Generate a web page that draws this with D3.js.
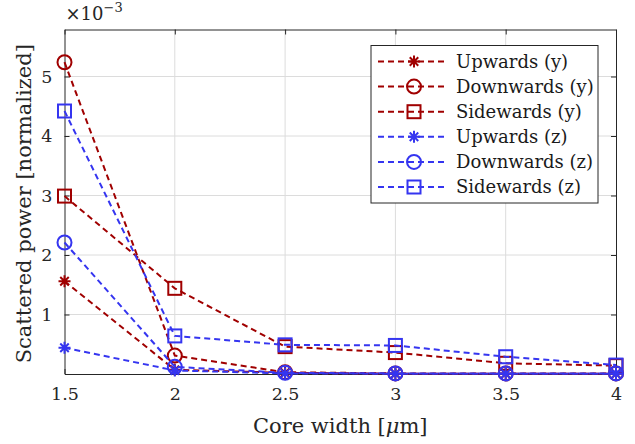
<!DOCTYPE html>
<html>
<head>
<meta charset="utf-8">
<script src="https://cdn.jsdelivr.net/npm/d3@7"></script>
<style>
  body { margin: 0; background: #fff; }
  svg { display: block; font-family: "DejaVu Serif", serif; }
</style>
</head>
<body>
<div id="chart"></div>
<script>
const width = 635;
const height = 444;
const plotLeft = 64.5;
const plotRight = 616;
const plotTop = 29.5;
const plotBottom = 374;

const coreWidths = [1.5, 2, 2.5, 3, 3.5, 4];
const xTicks = [1.5, 2, 2.5, 3, 3.5, 4];
const yTicks = [1, 2, 3, 4, 5];

// values in units of 1e-3
const upwardsY = [1.56, 0.07, 0.02, 0.005, 0.005, 0.005];
const downwardsY = [5.24, 0.31, 0.03, 0.01, 0.01, 0.01];
const sidewardsY = [2.99, 1.44, 0.46, 0.36, 0.18, 0.14];
const upwardsZ = [0.44, 0.06, 0.01, 0.005, 0.005, 0.005];
const downwardsZ = [2.21, 0.12, 0.02, 0.01, 0.01, 0.01];
const sidewardsZ = [4.42, 0.64, 0.49, 0.48, 0.29, 0.15];

const red = "#a00000";
const blue = "#3535f0";

const series = [
  { title: "Upwards (y)", color: red, marker: "star", values: upwardsY },
  { title: "Downwards (y)", color: red, marker: "circle", values: downwardsY },
  { title: "Sidewards (y)", color: red, marker: "square", values: sidewardsY },
  { title: "Upwards (z)", color: blue, marker: "star", values: upwardsZ },
  { title: "Downwards (z)", color: blue, marker: "circle", values: downwardsZ },
  { title: "Sidewards (z)", color: blue, marker: "square", values: sidewardsZ }
];

const x = d3.scaleLinear([1.5, 4], [plotLeft, plotRight]);
const y = d3.scaleLinear([0, 5.79], [plotBottom, plotTop]);

const svg = d3.select("#chart").append("svg")
  .attr("width", width)
  .attr("height", height);

// grid
svg.append("g")
  .selectAll("line")
  .data(xTicks.slice(1, -1))
  .join("line")
  .attr("x1", d => x(d)).attr("x2", d => x(d))
  .attr("y1", plotTop).attr("y2", plotBottom)
  .attr("stroke", "#dcdcdc").attr("stroke-width", 1);
svg.append("g")
  .selectAll("line")
  .data(yTicks)
  .join("line")
  .attr("x1", plotLeft).attr("x2", plotRight)
  .attr("y1", d => y(d)).attr("y2", d => y(d))
  .attr("stroke", "#dcdcdc").attr("stroke-width", 1);

// axes
const tickLen = 5;
const axisColor = "#262626";
const xAxis = svg.append("g")
  .attr("transform", `translate(0,${plotBottom})`)
  .call(d3.axisBottom(x).tickValues(xTicks).tickSizeInner(-tickLen).tickSizeOuter(0).tickPadding(14)
    .tickFormat(d3.format("")));
const xAxisTop = svg.append("g")
  .attr("transform", `translate(0,${plotTop})`)
  .call(d3.axisTop(x).tickValues(xTicks).tickSizeInner(-tickLen).tickSizeOuter(0).tickFormat(""));
const yAxis = svg.append("g")
  .attr("transform", `translate(${plotLeft},0)`)
  .call(d3.axisLeft(y).tickValues(yTicks).tickSizeInner(-tickLen).tickSizeOuter(0).tickPadding(12)
    .tickFormat(d3.format("d")));
const yAxisRight = svg.append("g")
  .attr("transform", `translate(${plotRight},0)`)
  .call(d3.axisRight(y).tickValues(yTicks).tickSizeInner(-tickLen).tickSizeOuter(0).tickFormat(""));

[xAxis, xAxisTop, yAxis, yAxisRight].forEach(g => {
  g.select(".domain").attr("stroke", axisColor).attr("stroke-width", 1);
  g.selectAll(".tick line").attr("stroke", axisColor);
  g.selectAll("text")
    .attr("fill", axisColor)
    .style("font-family", "DejaVu Serif, serif")
    .style("font-size", "17.5px");
});

// lines
const line = d3.line()
  .x((v, i) => x(coreWidths[i]))
  .y(v => y(v));

const markerSize = 7;
function drawMarker(g, type, color) {
  if (type === "circle") {
    g.append("circle").attr("r", markerSize)
      .attr("fill", "none").attr("stroke", color).attr("stroke-width", 2);
  } else if (type === "square") {
    g.append("rect")
      .attr("x", -markerSize + 0.5).attr("y", -markerSize + 0.5)
      .attr("width", 2 * markerSize - 1).attr("height", 2 * markerSize - 1)
      .attr("fill", "none").attr("stroke", color).attr("stroke-width", 2);
  } else {
    const r = 6;
    const d = r * Math.SQRT1_2;
    g.append("path")
      .attr("d", `M0,${-r}V${r}M${-r},0H${r}M${-d},${-d}L${d},${d}M${-d},${d}L${d},${-d}`)
      .attr("stroke", color).attr("stroke-width", 2).attr("fill", "none");
  }
}

const seriesG = svg.append("g")
  .selectAll("g.series")
  .data(series)
  .join("g")
  .attr("class", "series");

seriesG.append("path")
  .attr("d", d => line(d.values))
  .attr("fill", "none")
  .attr("stroke", d => d.color)
  .attr("stroke-width", 2)
  .attr("stroke-dasharray", "6,4");

seriesG.each(function (s) {
  d3.select(this).selectAll("g.pt")
    .data(s.values)
    .join("g")
    .attr("class", "pt")
    .attr("transform", (v, i) => `translate(${x(coreWidths[i])},${y(v)})`)
    .each(function () { drawMarker(d3.select(this), s.marker, s.color); });
});

// exponent label
const expText = svg.append("text")
  .attr("x", plotLeft + 1)
  .attr("y", 20)
  .attr("fill", axisColor)
  .style("font-size", "18px");
expText.append("tspan").text("×10");
expText.append("tspan").attr("dy", -8).style("font-size", "13px").text("−3");

// axis labels
const xLabel = svg.append("text")
  .attr("x", (plotLeft + plotRight) / 2)
  .attr("y", 433)
  .attr("text-anchor", "middle")
  .attr("fill", axisColor)
  .style("font-size", "21px");
xLabel.append("tspan").text("Core width [");
xLabel.append("tspan").style("font-style", "italic").text("μ");
xLabel.append("tspan").text("m]");

svg.append("text")
  .attr("transform", `translate(31,${(plotTop + plotBottom) / 2 + 2}) rotate(-90)`)
  .attr("text-anchor", "middle")
  .attr("fill", axisColor)
  .style("font-size", "21px")
  .text("Scattered power [normalized]");

// legend
const legendX = 371;
const legendY = 45.5;
const legendW = 227;
const legendH = 157.5;
const rowH = 25.1;
const legend = svg.append("g");
legend.append("rect")
  .attr("x", legendX).attr("y", legendY)
  .attr("width", legendW).attr("height", legendH)
  .attr("fill", "#fff").attr("stroke", "#262626").attr("stroke-width", 1);

const rows = legend.selectAll("g.row")
  .data(series)
  .join("g")
  .attr("class", "row")
  .attr("transform", (d, i) => `translate(${legendX},${legendY + 16 + i * rowH})`);
rows.append("line")
  .attr("x1", 7).attr("x2", 73)
  .attr("stroke", d => d.color)
  .attr("stroke-width", 2)
  .attr("stroke-dasharray", "6,4");
rows.each(function (d) {
  const m = d3.select(this).append("g").attr("transform", "translate(43,0)");
  drawMarker(m, d.marker, d.color);
});
rows.append("text")
  .attr("x", 85)
  .attr("dy", "0.35em")
  .attr("fill", "#1a1a1a")
  .style("font-size", "18px")
  .text(d => d.title);
</script>
</body>
</html>
